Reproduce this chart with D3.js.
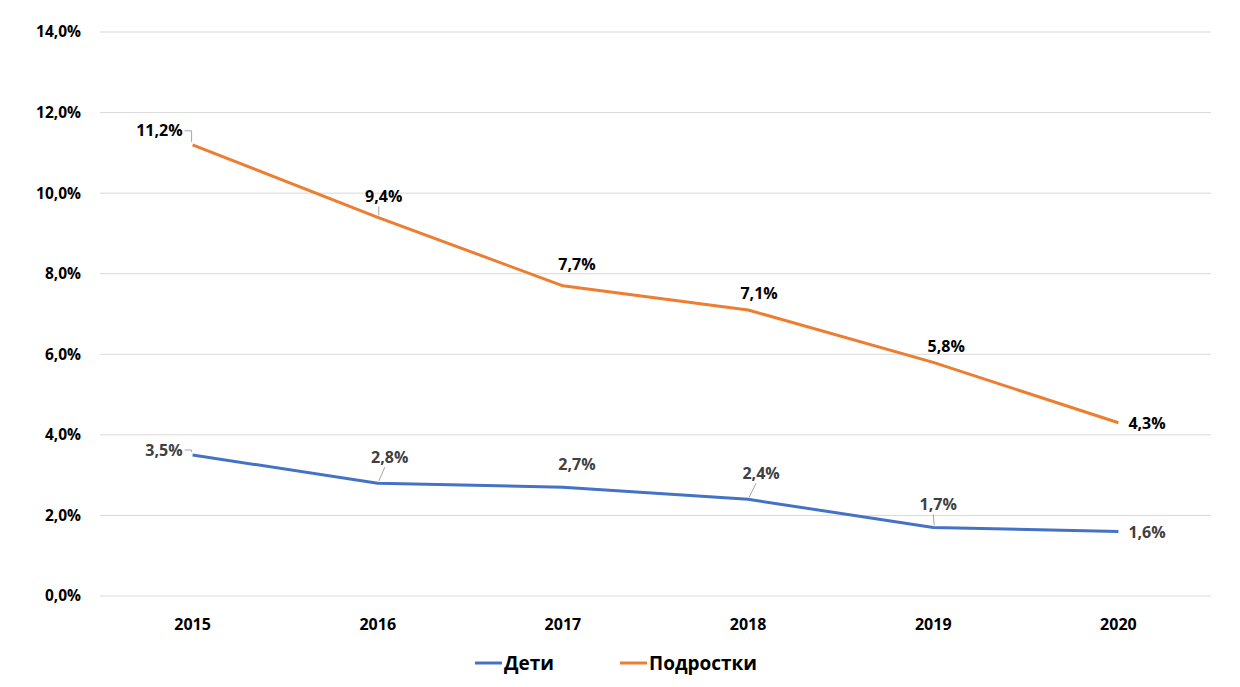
<!DOCTYPE html>
<html>
<head>
<meta charset="utf-8">
<script src="https://cdn.jsdelivr.net/npm/d3@7"></script>
<style>
  body { margin: 0; background: #fff; }
  text { font-family: "Open Sans", "Noto Sans", sans-serif; font-weight: 700; }
</style>
</head>
<body>
<svg id="chart" width="1240" height="687"></svg>
<script>
const years = ["2015", "2016", "2017", "2018", "2019", "2020"];
const children = [3.5, 2.8, 2.7, 2.4, 1.7, 1.6];
const teens = [11.2, 9.4, 7.7, 7.1, 5.8, 4.3];
const yTicks = [0, 2, 4, 6, 8, 10, 12, 14];
const seriesNames = ["Дети", "Подростки"];

// label placement relative to point: [dx, dy, anchor, leader]
const teenLabelPos = [
  [-10, -14, "end", "elbow"], [6, -21, "middle", "diag"], [14, -21, "middle", ""],
  [11, -17, "middle", ""], [13, -16, "middle", ""], [10, 1, "start", ""]
];
const childLabelPos = [
  [-10, -5, "end", "elbow"], [12, -26, "middle", "diag"], [14, -23, "middle", ""],
  [13, -26, "middle", "diag"], [5, -23, "middle", "diag"], [10, 1, "start", ""]
];

const svg = d3.select("#chart");
const plotLeft = 100, plotRight = 1211, plotTop = 32, plotBottom = 596;

const x = d3.scaleBand().domain(years).range([plotLeft, plotRight]);
const y = d3.scaleLinear().domain([0, 14]).range([plotBottom, plotTop]);
const fmt = (v) => v.toFixed(1).replace(".", ",") + "%";

svg.append("g")
  .selectAll("line")
  .data(yTicks)
  .join("line")
  .attr("x1", plotLeft)
  .attr("x2", plotRight)
  .attr("y1", (d) => y(d))
  .attr("y2", (d) => y(d))
  .style("stroke", "#d9d9d9")
  .style("stroke-width", 1);

svg.append("g")
  .selectAll("text")
  .data(yTicks)
  .join("text")
  .attr("x", 81)
  .attr("y", (d) => y(d))
  .attr("dy", "0.35em")
  .attr("text-anchor", "end")
  .style("font-size", "15.5px")
  .style("fill", "#000")
  .text(fmt);

svg.append("g")
  .selectAll("text")
  .data(years)
  .join("text")
  .attr("x", (d) => x(d) + x.bandwidth() / 2)
  .attr("y", 630)
  .attr("text-anchor", "middle")
  .style("font-size", "16px")
  .style("fill", "#000")
  .text((d) => d);

const cx = (i) => x(years[i]) + x.bandwidth() / 2;

function drawSeries(values, color, labelColor, pos) {
  let line = d3.line().x((d, i) => cx(i)).y((d) => y(d));
  svg.append("path")
    .datum(values)
    .attr("d", line)
    .style("fill", "none")
    .style("stroke", color)
    .style("stroke-width", 3)
    .style("stroke-linejoin", "round");

  let g = svg.append("g");
  values.forEach((v, i) => {
    let px = cx(i), py = y(v);
    let p = pos[i];
    let tx = px + p[0], ty = py + p[1];
    if (p[3] == "elbow") {
      g.append("path")
        .attr("d", `M${tx + 2},${ty} H${px - 1} V${py - 3}`)
        .style("fill", "none")
        .style("stroke", "#a6a6a6")
        .style("stroke-width", 1);
    } else if (p[3] == "diag") {
      g.append("line")
        .attr("x1", tx - 5)
        .attr("y1", ty + 10)
        .attr("x2", px + 1)
        .attr("y2", py - 2)
        .style("stroke", "#a6a6a6")
        .style("stroke-width", 1);
    }
    g.append("text")
      .attr("x", tx)
      .attr("y", ty)
      .attr("dy", "0.35em")
      .attr("text-anchor", p[2])
      .style("font-size", "16px")
      .style("fill", labelColor)
      .text(fmt(v));
  });
}

drawSeries(children, "#4472c4", "#404040", childLabelPos);
drawSeries(teens, "#ed7d31", "#000", teenLabelPos);

const legend = svg.append("g");
const legendX = [475, 620];
const legendColors = ["#4472c4", "#ed7d31"];
seriesNames.forEach((name, i) => {
  legend.append("line")
    .attr("x1", legendX[i])
    .attr("x2", legendX[i] + 27)
    .attr("y1", 663)
    .attr("y2", 663)
    .style("stroke", legendColors[i])
    .style("stroke-width", 3);
  legend.append("text")
    .attr("x", legendX[i] + 29)
    .attr("y", 663)
    .attr("dy", "0.35em")
    .style("font-size", "19px")
    .style("fill", "#000")
    .text(name);
});
</script>
</body>
</html>
